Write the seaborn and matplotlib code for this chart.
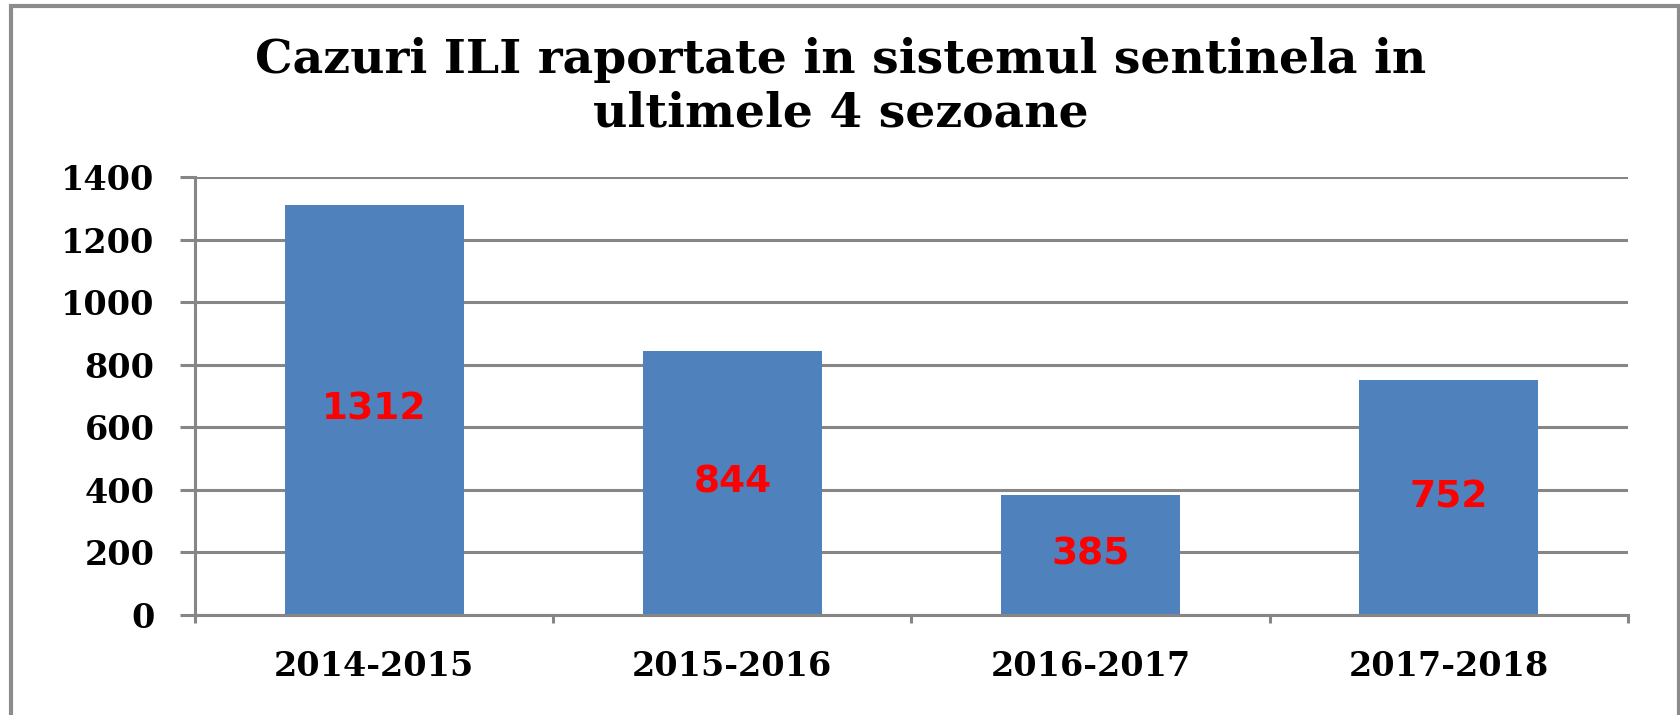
import numpy as np
import pandas as pd
import matplotlib
matplotlib.use("Agg")
import matplotlib.pyplot as plt
from matplotlib.patches import Rectangle
import seaborn as sns

seasons = ["2014-2015", "2015-2016", "2016-2017", "2017-2018"]
cases = [1312, 844, 385, 752]
y_ticks = [0, 200, 400, 600, 800, 1000, 1200, 1400]
title = "Cazuri ILI raportate in sistemul sentinela in\nultimele 4 sezoane"

df = pd.DataFrame({"season": seasons, "cases": cases})

sns.set_theme(style="white")
plt.rcParams["font.family"] = ["DejaVu Serif"]
plt.rcParams["text.color"] = "black"
plt.rcParams["xtick.color"] = "black"
plt.rcParams["ytick.color"] = "black"

W, H = 1681, 715
fig = plt.figure(figsize=(W / 100, H / 100), dpi=100)
ax = fig.add_axes([195 / W, 1 - 615 / H, (1628 - 195) / W, (615 - 177) / H])

grey = "#868686"
sns.barplot(data=df, x="season", y="cases", color="#4F81BD", saturation=1,
            width=0.5, ax=ax, zorder=3, linewidth=0)

ax.set_ylim(0, 1400)
ax.set_xlim(-0.5, 3.5)
ax.set_yticks(y_ticks)
ax.yaxis.grid(True, color=grey, linewidth=2.2, zorder=0)
ax.set_axisbelow(True)
for s in ["top", "right"]:
    ax.spines[s].set_visible(False)
for s in ["left", "bottom"]:
    ax.spines[s].set_color(grey)
    ax.spines[s].set_linewidth(2.2)
    ax.spines[s].set_zorder(4)

ax.set_xlabel("")
ax.set_ylabel("")
ax.tick_params(axis="y", length=11, width=2.2, color=grey, pad=18,
               labelsize=24, left=True, labelcolor="black")
ax.tick_params(axis="x", length=0, pad=25, labelsize=24, labelcolor="black")
ax.set_xticks([-0.5, 0.5, 1.5, 2.5, 3.5], minor=True)
ax.tick_params(axis="x", which="minor", length=6, width=2.2, color=grey,
               bottom=True)
for lab in ax.get_xticklabels() + ax.get_yticklabels():
    lab.set_fontweight("bold")

ax.bar_label(ax.containers[0], labels=[str(v) for v in cases],
             label_type="center", color="red", fontsize=27,
             fontweight="bold", family="DejaVu Sans")

fig.text(0.5, 1 - 37 / H, title, ha="center", va="top", fontsize=34,
         fontweight="bold", linespacing=1.2, color="black")

fig.patches.append(Rectangle((11 / W, -0.05), (1679 - 11) / W, 1 + 0.05 - 6 / H,
                             transform=fig.transFigure, fill=False,
                             edgecolor="#8c8c8c", linewidth=3))

fig.savefig("out.png", dpi=100)
